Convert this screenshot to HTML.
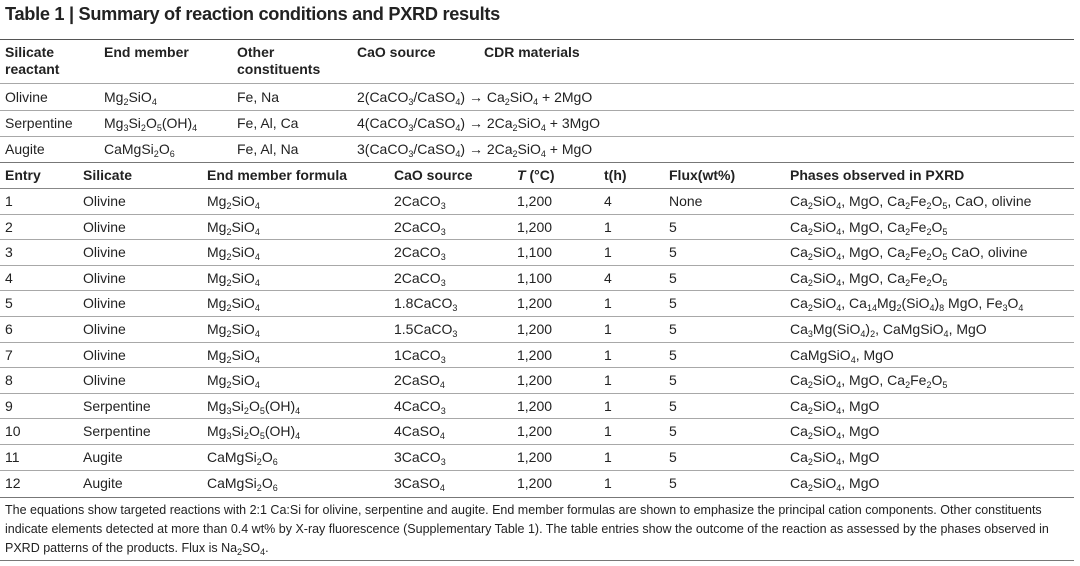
<!DOCTYPE html>
<html><head><meta charset="utf-8">
<style>
html,body{margin:0;padding:0;background:#fff;}
body{width:1080px;height:566px;position:relative;overflow:hidden;font-family:"Liberation Sans",sans-serif;color:#222;}
.t{position:absolute;white-space:nowrap;font-size:14px;line-height:16px;}
.b{font-weight:bold;}
.r{position:absolute;left:0;width:1074px;height:1px;background:#a8a8a8;}
.d{background:#555;height:1px;}
sub{font-size:9px;line-height:0;vertical-align:-3px;}
.fn{position:absolute;left:5px;font-size:12.5px;letter-spacing:0px;white-space:nowrap;line-height:14px;}
</style></head>
<body>
<div class="t b" style="left:5px;top:3px;font-size:18.2px;line-height:22px;letter-spacing:-0.3px">Table 1 | Summary of reaction conditions and PXRD results</div>

<div class="r d" style="top:39px"></div>
<div>
<div class="t b" style="left:5px;top:44px;line-height:17px">Silicate<br>reactant</div>
<div class="t b" style="left:104px;top:44px">End member</div>
<div class="t b" style="left:237px;top:44px;line-height:17px">Other<br>constituents</div>
<div class="t b" style="left:357px;top:44px">CaO source</div>
<div class="t b" style="left:484px;top:44px">CDR materials</div>
</div>
<div class="r" style="top:83px"></div>

<div>
<div class="t" style="left:5px;top:89px">Olivine</div>
<div class="t" style="left:104px;top:89px">Mg<sub>2</sub>SiO<sub>4</sub></div>
<div class="t" style="left:237px;top:89px">Fe, Na</div>
<div class="t" style="left:357px;top:89px">2(CaCO<sub>3</sub>/CaSO<sub>4</sub>) → Ca<sub>2</sub>SiO<sub>4</sub> + 2MgO</div>
</div>
<div class="r" style="top:110px"></div>
<div>
<div class="t" style="left:5px;top:115px">Serpentine</div>
<div class="t" style="left:104px;top:115px">Mg<sub>3</sub>Si<sub>2</sub>O<sub>5</sub>(OH)<sub>4</sub></div>
<div class="t" style="left:237px;top:115px">Fe, Al, Ca</div>
<div class="t" style="left:357px;top:115px">4(CaCO<sub>3</sub>/CaSO<sub>4</sub>) → 2Ca<sub>2</sub>SiO<sub>4</sub> + 3MgO</div>
</div>
<div class="r" style="top:136px"></div>
<div>
<div class="t" style="left:5px;top:141px">Augite</div>
<div class="t" style="left:104px;top:141px">CaMgSi<sub>2</sub>O<sub>6</sub></div>
<div class="t" style="left:237px;top:141px">Fe, Al, Na</div>
<div class="t" style="left:357px;top:141px">3(CaCO<sub>3</sub>/CaSO<sub>4</sub>) → 2Ca<sub>2</sub>SiO<sub>4</sub> + MgO</div>
</div>
<div class="r d" style="top:162px;background:#777"></div>

<div>
<div class="t b" style="left:5px;top:167px">Entry</div>
<div class="t b" style="left:83px;top:167px">Silicate</div>
<div class="t b" style="left:207px;top:167px">End member formula</div>
<div class="t b" style="left:394px;top:167px">CaO source</div>
<div class="t b" style="left:517px;top:167px"><i>T</i> (°C)</div>
<div class="t b" style="left:604px;top:167px">t(h)</div>
<div class="t b" style="left:669px;top:167px">Flux(wt%)</div>
<div class="t b" style="left:790px;top:167px">Phases observed in PXRD</div>
</div>
<div class="r" style="top:188px;background:#888"></div>

<div id="entries"></div>

<div class="r d" style="top:497px;background:#777"></div>
<div>
<div class="fn" style="top:503px">The equations show targeted reactions with 2:1 Ca:Si for olivine, serpentine and augite. End member formulas are shown to emphasize the principal cation components. Other constituents</div>
<div class="fn" style="top:522px">indicate elements detected at more than 0.4 wt% by X-ray fluorescence (Supplementary Table 1). The table entries show the outcome of the reaction as assessed by the phases observed in</div>
<div class="fn" style="top:541px">PXRD patterns of the products. Flux is Na<sub>2</sub>SO<sub>4</sub>.</div>
</div>
<div class="r d" style="top:560px;background:#777"></div>

<script>
const entryIds=["1","2","3","4","5","6","7","8","9","10","11","12"];
const silicates=["Olivine","Olivine","Olivine","Olivine","Olivine","Olivine","Olivine","Olivine","Serpentine","Serpentine","Augite","Augite"];
const formulas=["Mg<sub>2</sub>SiO<sub>4</sub>","Mg<sub>2</sub>SiO<sub>4</sub>","Mg<sub>2</sub>SiO<sub>4</sub>","Mg<sub>2</sub>SiO<sub>4</sub>","Mg<sub>2</sub>SiO<sub>4</sub>","Mg<sub>2</sub>SiO<sub>4</sub>","Mg<sub>2</sub>SiO<sub>4</sub>","Mg<sub>2</sub>SiO<sub>4</sub>","Mg<sub>3</sub>Si<sub>2</sub>O<sub>5</sub>(OH)<sub>4</sub>","Mg<sub>3</sub>Si<sub>2</sub>O<sub>5</sub>(OH)<sub>4</sub>","CaMgSi<sub>2</sub>O<sub>6</sub>","CaMgSi<sub>2</sub>O<sub>6</sub>"];
const caoSources=["2CaCO<sub>3</sub>","2CaCO<sub>3</sub>","2CaCO<sub>3</sub>","2CaCO<sub>3</sub>","1.8CaCO<sub>3</sub>","1.5CaCO<sub>3</sub>","1CaCO<sub>3</sub>","2CaSO<sub>4</sub>","4CaCO<sub>3</sub>","4CaSO<sub>4</sub>","3CaCO<sub>3</sub>","3CaSO<sub>4</sub>"];
const temps=["1,200","1,200","1,100","1,100","1,200","1,200","1,200","1,200","1,200","1,200","1,200","1,200"];
const times=["4","1","1","4","1","1","1","1","1","1","1","1"];
const fluxes=["None","5","5","5","5","5","5","5","5","5","5","5"];
const phases=["Ca<sub>2</sub>SiO<sub>4</sub>, MgO, Ca<sub>2</sub>Fe<sub>2</sub>O<sub>5</sub>, CaO, olivine","Ca<sub>2</sub>SiO<sub>4</sub>, MgO, Ca<sub>2</sub>Fe<sub>2</sub>O<sub>5</sub>","Ca<sub>2</sub>SiO<sub>4</sub>, MgO, Ca<sub>2</sub>Fe<sub>2</sub>O<sub>5</sub> CaO, olivine","Ca<sub>2</sub>SiO<sub>4</sub>, MgO, Ca<sub>2</sub>Fe<sub>2</sub>O<sub>5</sub>","Ca<sub>2</sub>SiO<sub>4</sub>, Ca<sub>14</sub>Mg<sub>2</sub>(SiO<sub>4</sub>)<sub>8</sub> MgO, Fe<sub>3</sub>O<sub>4</sub>","Ca<sub>3</sub>Mg(SiO<sub>4</sub>)<sub>2</sub>, CaMgSiO<sub>4</sub>, MgO","CaMgSiO<sub>4</sub>, MgO","Ca<sub>2</sub>SiO<sub>4</sub>, MgO, Ca<sub>2</sub>Fe<sub>2</sub>O<sub>5</sub>","Ca<sub>2</sub>SiO<sub>4</sub>, MgO","Ca<sub>2</sub>SiO<sub>4</sub>, MgO","Ca<sub>2</sub>SiO<sub>4</sub>, MgO","Ca<sub>2</sub>SiO<sub>4</sub>, MgO"];
const colX=[5,83,207,394,517,604,669,790];
const host=document.getElementById('entries');
const rowH=25.6, top0=193;
entryIds.forEach((id,i)=>{
  const y=top0+i*rowH;
  const row=document.createElement('div');
  
  
  const vals=[id,silicates[i],formulas[i],caoSources[i],temps[i],times[i],fluxes[i],phases[i]];
  vals.forEach((v,j)=>{
    const c=document.createElement('div');
    c.className='t';
    c.style.left=colX[j]+'px';
    c.style.top=y+'px';
    c.innerHTML=v;
    
    
    row.appendChild(c);
  });
  if(i<entryIds.length-1){
    const r=document.createElement('div');
    r.className='r';
    r.style.top=Math.round(y+20.5)+'px';
    
    
    row.appendChild(r);
  }
  host.appendChild(row);
});
</script>
</body></html>
